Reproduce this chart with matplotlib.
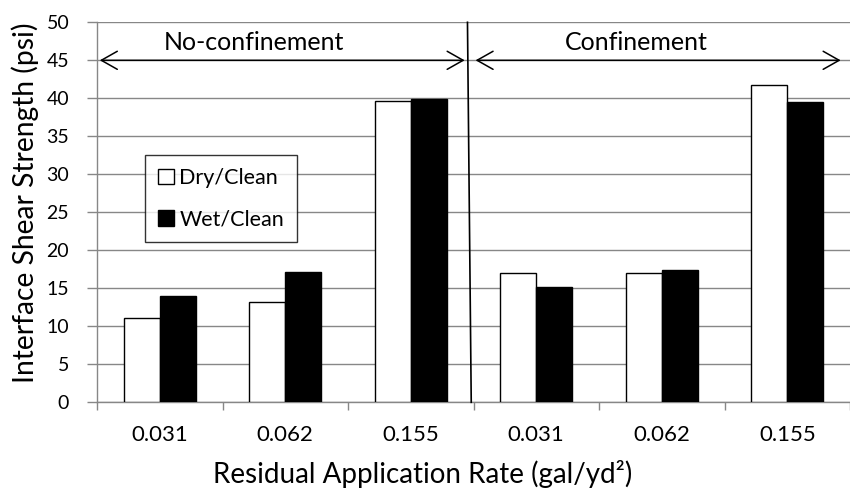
import numpy as np
import matplotlib
matplotlib.use("Agg")
import matplotlib.pyplot as plt
from matplotlib.patches import FancyArrowPatch, Patch

plt.rcParams['font.family'] = ['Lato', 'DejaVu Sans']

# data
rates = ["0.031", "0.062", "0.155", "0.031", "0.062", "0.155"]
dry_clean = [11.1, 13.2, 39.6, 17.0, 17.0, 41.7]
wet_clean = [14.0, 17.1, 39.9, 15.2, 17.4, 39.5]
groups = ["No-confinement", "Confinement"]

GRAY = "#878787"

fig = plt.figure(figsize=(8.5, 4.92), dpi=100)
ax = fig.add_axes([97/850, 89.7/492, 753/850, 380/492])

x = np.arange(len(rates))
w = 0.288
ax.bar(x - w/2, dry_clean, w, color="white", edgecolor="black", linewidth=1.0, zorder=3)
ax.bar(x + w/2, wet_clean, w, color="black", edgecolor="black", linewidth=1.0, zorder=3)

ax.set_xlim(-0.5, -0.5 + 753/126.6)
ax.set_ylim(0, 50)
ax.set_yticks(np.arange(0, 51, 5))
ax.yaxis.grid(True, color=GRAY, linewidth=1.0, zorder=0)
ax.set_axisbelow(True)

ax.set_xticks(x)
ax.set_xticklabels(rates, fontsize=16)
ax.set_xticks(np.arange(-0.5, 6, 1), minor=True)
ax.tick_params(axis='x', which='major', length=0, pad=16)
ax.tick_params(axis='x', which='minor', length=6, color=GRAY, width=1)
ax.tick_params(axis='y', length=7, color=GRAY, width=1, pad=13, labelsize=14)

for s in ['top', 'right']:
    ax.spines[s].set_visible(False)
for s in ['left', 'bottom']:
    ax.spines[s].set_color(GRAY)
    ax.spines[s].set_linewidth(1.0)

# separator between the two groups
ax.plot([2.452, 2.482], [50, 0], color="black", linewidth=1.2, zorder=4, clip_on=False)

# group arrows
for x0, x1 in [(-0.5, 2.452), (2.494, 5.448)]:
    arr = FancyArrowPatch((x0, 45), (x1, 45), arrowstyle="<->,head_length=1.15,head_width=0.65",
                          mutation_scale=10, color="black", linewidth=1.1, zorder=5, clip_on=False)
    ax.add_patch(arr)
ax.text(0.748, 46.4, groups[0], ha="center", va="baseline", fontsize=18, zorder=6)
ax.text(3.80, 46.4, groups[1], ha="center", va="baseline", fontsize=18, zorder=6)

handles = [Patch(facecolor="white", edgecolor="black", linewidth=1.0, label="Dry/Clean"),
           Patch(facecolor="black", edgecolor="black", linewidth=1.0, label="Wet/Clean")]
leg = ax.legend(handles=handles, loc="upper left", bbox_to_anchor=((145-97)/753, (402.3-155)/380),
                fontsize=15.5, frameon=True, fancybox=False, handlelength=0.75, handleheight=0.75,
                handletextpad=0.25, labelspacing=1.0, borderpad=0.6, borderaxespad=0)
leg.get_frame().set_edgecolor("black")
leg.get_frame().set_linewidth(1.0)
leg.set_zorder(6)

fig.text(25/850, 1 - 203/492, "Interface Shear Strength (psi)", rotation=90,
         ha="center", va="center", fontsize=20.3)
fig.text(423/850, (492 - 483.3)/492, "Residual Application Rate (gal/yd²)",
         ha="center", va="baseline", fontsize=20)

fig.savefig("out.png", dpi=100)
